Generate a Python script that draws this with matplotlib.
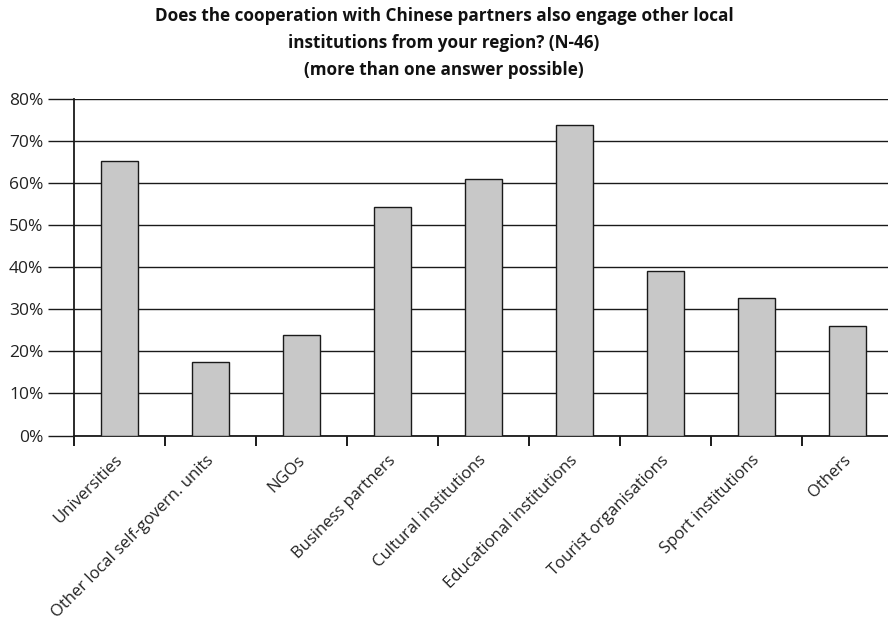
import matplotlib
matplotlib.use("Agg")
import matplotlib.pyplot as plt
import matplotlib.transforms as mtransforms
import numpy as np

categories = ["Universities", "Other local self-govern. units", "NGOs", "Business partners",
              "Cultural institutions", "Educational institutions", "Tourist organisations",
              "Sport institutions", "Others"]
values = [65.2, 17.4, 23.9, 54.3, 60.9, 73.9, 39.1, 32.6, 26.1]
yticks = [0, 10, 20, 30, 40, 50, 60, 70, 80]
ytick_labels = ["0%", "10%", "20%", "30%", "40%", "50%", "60%", "70%", "80%"]
title = ("Does the cooperation with Chinese partners also engage other local\n"
         "institutions from your region? (N-46)\n(more than one answer possible)")

W, H = 888, 622
fig = plt.figure(figsize=(W/100, H/100), dpi=100)
x0, x1, y0, y1 = 74, 893, 435.5, 99
ax = fig.add_axes([x0/W, 1-y0/H, (x1-x0)/W, (y0-y1)/H])

x = np.arange(len(categories))
ax.bar(x, values, width=0.40, color="#c8c8c8", edgecolor="#1a1a1a", linewidth=1.0, zorder=3)
ax.set_xlim(-0.5, len(categories)-0.5)
ax.set_ylim(0, 80)
ax.set_yticks(yticks)
ax.set_yticklabels(ytick_labels, fontsize=12.5, family="Open Sans", color="#222222")
ax.yaxis.grid(True, color="#1a1a1a", linewidth=1.0, zorder=0)
ax.tick_params(axis="y", length=19, width=1.0, color="#1a1a1a", pad=3)
ax.set_xticks(np.arange(len(categories)+1)-0.5)
ax.set_xticklabels([])
ax.tick_params(axis="x", length=7, width=1.4, color="#1a1a1a")
ax.set_xticks(x, minor=True)
ax.set_xticklabels(categories, minor=True, rotation=45, ha="right", rotation_mode="anchor",
                   fontsize=12, family="Open Sans", color="#222222")
ax.tick_params(axis="x", which="minor", length=0, pad=12)
off = mtransforms.ScaledTranslation(-5/100, 0, fig.dpi_scale_trans)
for lab in ax.get_xticklabels(minor=True):
    lab.set_transform(lab.get_transform() + off)
for s in ["top", "right"]:
    ax.spines[s].set_visible(False)
for s in ["left", "bottom"]:
    ax.spines[s].set_linewidth(1.3)
    ax.spines[s].set_color("#1a1a1a")

fig.text(0.5, 1-43/H, title, ha="center", va="center", fontsize=12.3, fontweight="bold",
         family=["Open Sans", "DejaVu Sans"], linespacing=1.62, color="#111111")

fig.savefig("out.png", dpi=100)
